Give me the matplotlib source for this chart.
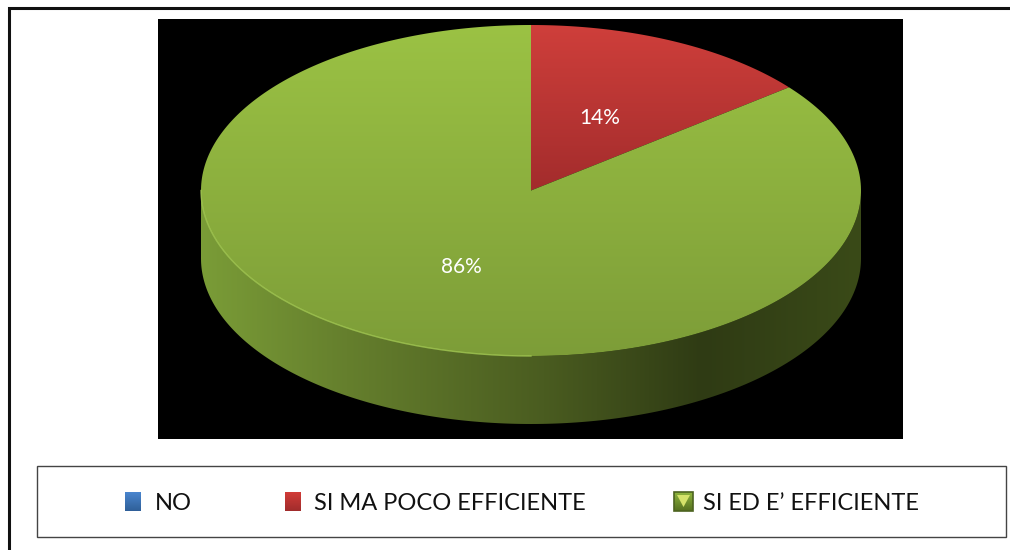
import numpy as np
import matplotlib
matplotlib.use('Agg')
import matplotlib.pyplot as plt
from matplotlib.patches import Polygon, Rectangle
from matplotlib.colors import LinearSegmentedColormap

plt.rcParams['font.family'] = ['Lato', 'DejaVu Sans']

categories = ['NO', 'SI MA POCO EFFICIENTE', "SI ED E\u2019 EFFICIENTE"]
# counts behind the 14% / 86% labels, one out of seven fits the slice edge
values = [0, 1, 6]

# pie geometry in pixels
cx, cy = 531, 190.5
rx, ry = 330, 165.5
depth = 68


def gradient(ax, colors, box, clip, horizontal=False, stops=None):
    # paint a gradient in box (x0, x1, y0, y1), cut to the clip patch
    if stops is not None:
        colors = list(zip(stops, colors))
    cmap = LinearSegmentedColormap.from_list('g', colors)
    ramp = np.linspace(0, 1, 256)
    ramp = ramp.reshape(1, -1) if horizontal else ramp.reshape(-1, 1)
    im = ax.imshow(ramp, cmap=cmap, extent=(box[0], box[1], box[3], box[2]),
                   aspect='auto', origin='upper', vmin=0, vmax=1, zorder=2)
    ax.add_patch(clip)
    clip.set_visible(False)
    im.set_clip_path(clip)
    return im


def rim(t):
    # t is the angle clockwise from twelve o'clock
    return cx + rx * np.sin(t), cy - ry * np.cos(t)


fig = plt.figure(figsize=(10.1, 5.5), dpi=100)
ax = fig.add_axes([0, 0, 1, 1])
ax.axis('off')

# outer frame, runs off the right and bottom of the picture
ax.plot([9, 9, 1012], [552, 8, 8], color='#111111', lw=2.2, solid_joinstyle='miter')

# black plot area
ax.add_patch(Rectangle((158, 19), 745, 420, fc='black', ec='none'))

# side wall of the disc
t = np.linspace(np.pi / 2, 3 * np.pi / 2, 300)
xs, ys = rim(t)
wall = np.column_stack([np.r_[xs, xs[::-1]], np.r_[ys, ys[::-1] + depth]])
gradient(ax, ['#7a9c37', '#657f2d', '#4a5c20', '#2f3b14', '#3a4a18'],
         (cx - rx, cx + rx, 0, 550), Polygon(wall), horizontal=True,
         stops=[0, 0.22, 0.52, 0.76, 1])

# top face, one wedge per value
angles = np.cumsum([0] + values) / sum(values) * 2 * np.pi
top_colors = [['#4f81bd', '#385d8a'],
              ['#cf3f3b', '#a32c2c'],
              ['#9bc244', '#7d9d38']]
top_boxes = [(cy - ry, cy), (cy - ry, cy), (cy - ry, cy + ry)]
for i in range(len(values)):
    if values[i] == 0:
        continue
    t = np.linspace(angles[i], angles[i + 1], 300)
    xs, ys = rim(t)
    pts = np.column_stack([np.r_[cx, xs], np.r_[cy, ys]])
    gradient(ax, top_colors[i], (cx - rx, cx + rx, top_boxes[i][0], top_boxes[i][1]),
             Polygon(pts))

# thin light edge on the front left of the top face
t = np.linspace(np.pi, 3 * np.pi / 2, 200)
xs, ys = rim(t)
ax.plot(xs, ys, color='#a6cc55', lw=1.0, alpha=0.8, zorder=3)

# percentage labels
shares = [round(v / sum(values) * 100) for v in values]
ax.text(600, 118, f'{shares[1]}%', color='white', fontsize=15, ha='center', va='center', zorder=5)
ax.text(461, 267, f'{shares[2]}%', color='white', fontsize=15, ha='center', va='center', zorder=5)

# legend
ax.add_patch(Rectangle((37, 466), 969, 71, fc='white', ec='#444444', lw=1.0))
marker_x = [125, 285, 674]
marker_w = [16, 16, 19]
text_x = [155, 314, 703]
marker_colors = [['#4a86cf', '#2f5f98'], ['#d23c38', '#a02c2c'], ['#8fb63e', '#55701f']]
for i in range(len(categories)):
    x = marker_x[i]
    w = marker_w[i]
    gradient(ax, marker_colors[i], (x, x + w, 492, 511), Rectangle((x, 492), w, 19))
    if i == 2:
        ax.add_patch(Polygon([(x + 3, 495), (x + w - 3, 495), (x + w / 2, 507)],
                             fc='#d5e36a', ec='none', zorder=3))
        ax.add_patch(Rectangle((x, 492), w, 19, fc='none', ec='#4d6320', lw=1.2, zorder=3))
    ax.text(text_x[i], 503, categories[i], color='#111111', fontsize=17,
            ha='left', va='center')

ax.set_xlim(0, 1010)
ax.set_ylim(550, 0)
fig.savefig('out.png', dpi=100, facecolor='white')
